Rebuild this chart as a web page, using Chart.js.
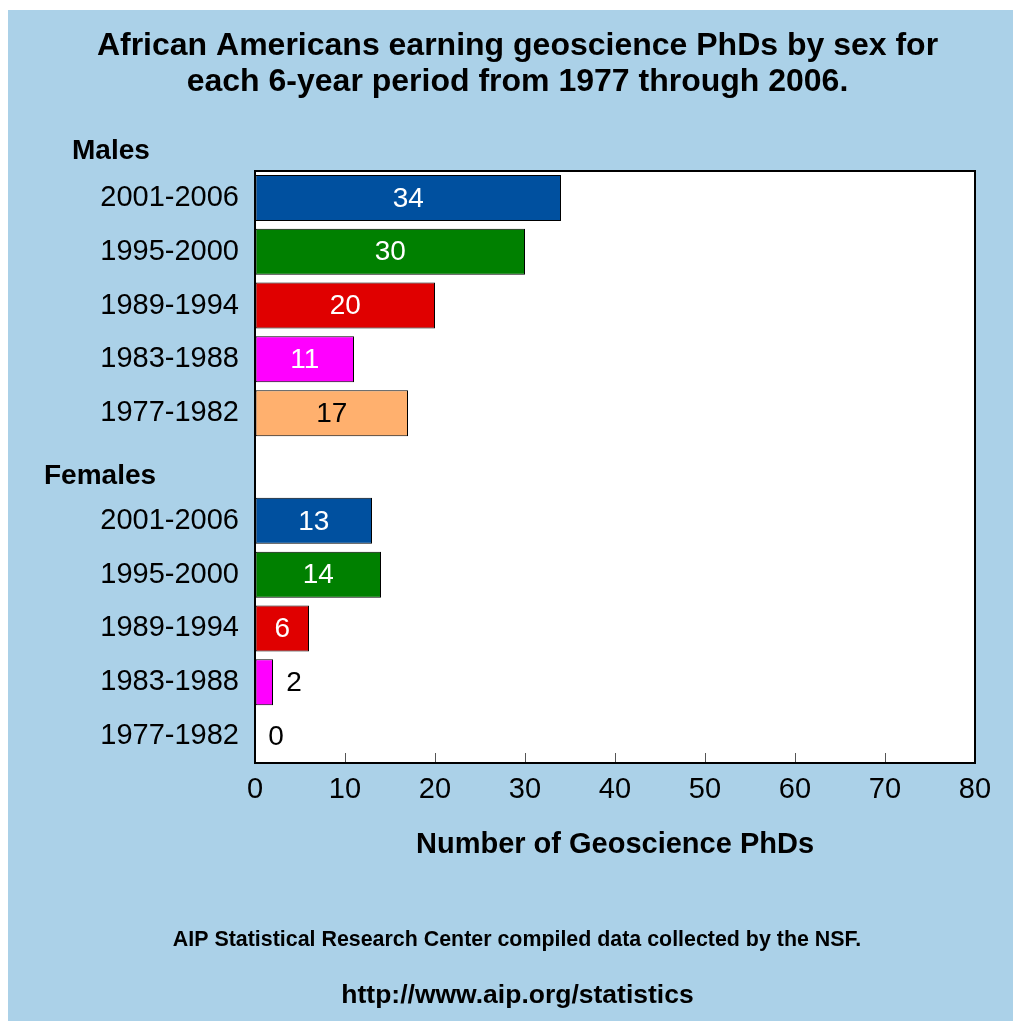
<!DOCTYPE html>
<html>
<head>
<meta charset="utf-8">
<script src="https://cdn.jsdelivr.net/npm/chart.js@4.4.0/dist/chart.umd.min.js"></script>
<style>
  html, body { margin: 0; padding: 0; background: #fff; }
  #panel { position: absolute; left: 8px; top: 10px; width: 1005px; height: 1011px; background: #abd1e8; }
</style>
</head>
<body>
<div id="panel"><canvas id="chart" width="1005" height="1011"></canvas></div>
<script>
var periods = ['2001-2006', '1995-2000', '1989-1994', '1983-1988', '1977-1982'];
var males = [34, 30, 20, 11, 17];
var females = [13, 14, 6, 2, 0];
var periodColors = ['#00509f', '#008000', '#e00000', '#ff00ff', '#ffb06e'];
var valueColors = ['#fff', '#fff', '#fff', '#fff', '#000'];
var groupNames = ['Males', 'Females'];
var titleLines = ['African Americans earning geoscience PhDs by sex for', 'each 6-year period from 1977 through 2006.'];
var footerLines = ['AIP Statistical Research Center compiled data collected by the NSF.', 'http://www.aip.org/statistics'];

// males on top, one empty row for the "Females" heading, then females
var labels = periods.concat([''], periods);
var values = males.concat([null], females);
var barColors = periodColors.concat(['#000'], periodColors);
var textColors = valueColors.concat(['#000'], valueColors);

var FONT = '"Liberation Sans", Arial, sans-serif';
Chart.defaults.font.family = FONT;
Chart.defaults.color = '#000';

// white plot area and black frame round it
var frame = {
    id: 'frame',
    beforeDraw: function(chart) {
        var a = chart.chartArea, ctx = chart.ctx;
        ctx.save();
        ctx.fillStyle = '#fff';
        ctx.fillRect(a.left, a.top, a.right - a.left, a.bottom - a.top);
        ctx.restore();
    },
    afterDatasetsDraw: function(chart) {
        var a = chart.chartArea, ctx = chart.ctx;
        ctx.save();
        ctx.strokeStyle = '#000';
        ctx.lineWidth = 2;
        ctx.strokeRect(a.left, a.top, a.right - a.left, a.bottom - a.top);
        ctx.restore();
    }
};

// title, numbers on the bars, group headings and footer text
var annotate = {
    id: 'annotate',
    afterDraw: function(chart) {
        var ctx = chart.ctx;
        var y = chart.scales.y;
        var bars = chart.getDatasetMeta(0).data;
        ctx.save();
        ctx.textBaseline = 'middle';
        ctx.textAlign = 'center';
        ctx.fillStyle = '#000';
        ctx.font = 'bold 32px ' + FONT;
        ctx.fillText(titleLines[0], 509.5, 36.6);
        ctx.fillText(titleLines[1], 509.5, 71.8);

        ctx.font = '28px ' + FONT;
        for (let i = 0; i < bars.length; i++) {
            var v = values[i];
            if (v === null) continue;
            var b = bars[i];
            if (v >= 5) {
                ctx.fillStyle = textColors[i];
                ctx.fillText(String(v), (b.x + b.base) / 2, b.y + 1);
            } else {
                ctx.fillStyle = '#000';
                ctx.fillText(String(v), b.x + 21, b.y + 1);
            }
        }
        ctx.fillStyle = '#000';
        ctx.font = 'bold 28px ' + FONT;
        ctx.textAlign = 'left';
        ctx.fillText(groupNames[0], 64, y.getPixelForValue(0) - 47);
        ctx.fillText(groupNames[1], 36, y.getPixelForValue(5) + 9);

        ctx.textAlign = 'center';
        ctx.font = 'bold 21.4px ' + FONT;
        ctx.fillText(footerLines[0], 509, 930);
        ctx.font = 'bold 26.5px ' + FONT;
        ctx.fillText(footerLines[1], 509.5, 986);
        ctx.restore();
    }
};

const myChart = new Chart(document.getElementById('chart'), {
    type: 'bar',
    data: {
        labels: labels,
        datasets: [{
            data: values,
            backgroundColor: barColors,
            borderColor: '#000',
            borderWidth: 1,
            borderSkipped: false,
            categoryPercentage: 1,
            barPercentage: 0.855
        }]
    },
    options: {
        responsive: false,
        animation: false,
        indexAxis: 'y',
        layout: { padding: { left: 0, right: 38, top: 161, bottom: 148 } },
        plugins: {
            legend: { display: false },
            tooltip: { enabled: false },
            title: { display: false }
        },
        scales: {
            x: {
                min: 0,
                max: 80,
                ticks: { stepSize: 10, font: { size: 29 }, padding: 20 },
                grid: { drawOnChartArea: false, tickLength: -10, color: '#555' },
                border: { display: false },
                title: {
                    display: true,
                    text: 'Number of Geoscience PhDs',
                    font: { size: 29, weight: 'bold' },
                    padding: { top: 0, bottom: 11 }
                },
                afterFit: function(s) { s.height = 110; }
            },
            y: {
                ticks: { font: { size: 29 }, padding: 16 },
                grid: { display: false, drawTicks: false },
                border: { display: false },
                afterFit: function(s) { s.width = 247; }
            }
        }
    },
    plugins: [frame, annotate]
});
</script>
</body>
</html>
